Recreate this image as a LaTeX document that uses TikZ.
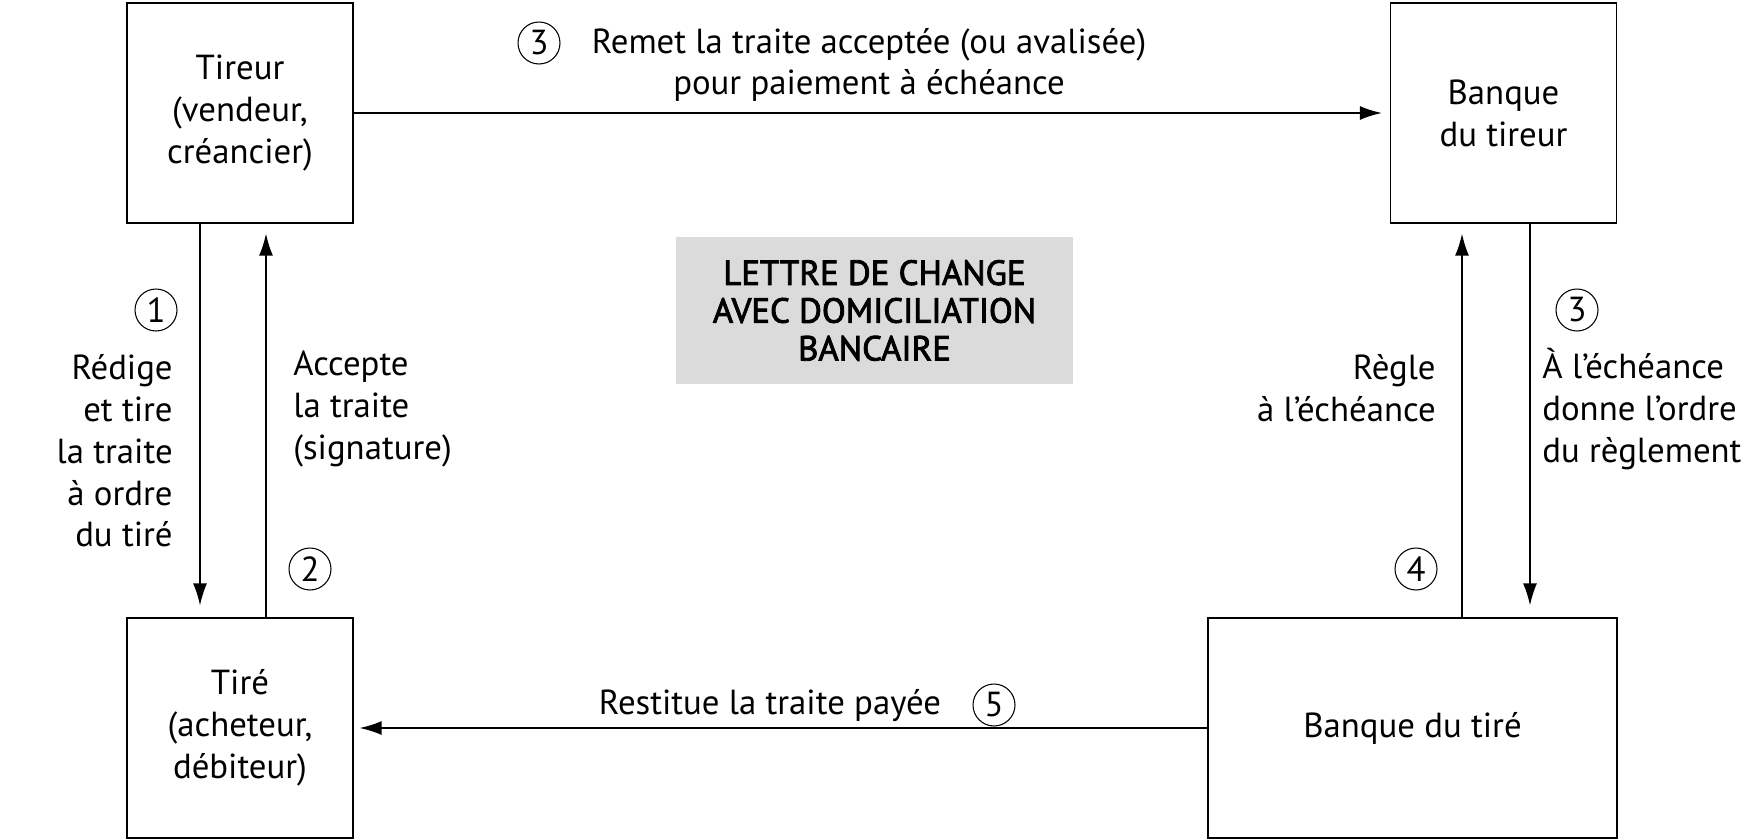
\documentclass[tikz,border=0pt]{standalone}
\usepackage{fontspec}
\setmainfont{PT Sans}
\newfontfamily\titrefont[FakeBold=2.5]{PT Sans}
\usetikzlibrary{arrows.meta}

\tikzset{
  acteur/.style={draw, line width=0.8pt, minimum width=4.52cm, minimum height=4.4cm, align=center},
  flow/.style={line width=0.8pt, -{Latex[length=0.44cm,width=0.28cm]}},
  numero/.style={draw, circle, line width=0.6pt, minimum size=0.84cm, inner sep=0pt},
  legende/.style={inner sep=0pt}
}

\begin{document}
\begin{tikzpicture}[x=0.02cm, y=-0.02cm, font=\fontsize{19.8}{23.8}\selectfont]
  \useasboundingbox (0,0) rectangle (1762,839);
  % Boxes
  \node[acteur] (tireur) at (240,113) {Tireur\\(vendeur,\\créancier)};
  \node[acteur] (btireur) at (1503.5,113) {Banque\\du tireur};
  \node[acteur] (tire) at (240,728) {Tiré\\(acheteur,\\débiteur)};
  \node[acteur, minimum width=8.18cm] (btire) at (1412.5,728) {Banque du tiré};
  % Title
  \node[fill=black!14, minimum width=7.94cm, minimum height=2.94cm, align=center,
        font=\titrefont\fontsize{19.8}{21.5}\selectfont] (titre) at (874.5,310.5)
        {LETTRE DE CHANGE\\AVEC DOMICILIATION\\BANCAIRE};
  % Arrows
  \draw[flow, shorten >=0.16cm] (tireur.east) -- (btireur.west);
  \draw[flow, shorten >=0.24cm] ([xshift=-0.8cm]tireur.south) -- ([xshift=-0.8cm]tire.north);
  \draw[flow, shorten >=0.2cm] ([xshift=0.52cm]tire.north) -- ([xshift=0.52cm]tireur.south);
  \coordinate (r4) at ([xshift=-0.83cm]btireur.south);
  \coordinate (r3) at ([xshift=0.53cm]btireur.south);
  \draw[flow, shorten >=0.2cm] (r4 |- btire.north) -- (r4);
  \draw[flow, shorten >=0.24cm] (r3) -- (r3 |- btire.north);
  \draw[flow, shorten >=0.12cm] (btire.west) -- (tire.east);
  % Labels
  \node[legende, align=center] (l3a) at (869,65) {Remet la traite acceptée (ou avalisée)\\pour paiement à échéance};
  \node[legende, align=right, anchor=east] (l1) at (173,451) {Rédige\\et tire\\la traite\\à ordre\\du tiré};
  \node[legende, align=left, anchor=west] (l2) at (293,409) {Accepte\\la traite\\(signature)};
  \node[legende, align=right, anchor=east] (l4) at (1436,388) {Règle\\à l’échéance};
  \node[legende, align=left, anchor=west] (l3b) at (1542,409) {À l’échéance\\donne l’ordre\\du règlement};
  \node[legende] (l5) at (770,706) {Restitue la traite payée};
  % Numbers
  \node[numero] (n1) at (156,310) {1};
  \node[numero] (n2) at (310,569) {2};
  \node[numero] (n3a) at (539,43) {3};
  \node[numero] (n3b) at (1577,310) {3};
  \node[numero] (n4) at (1416,569) {4};
  \node[numero] (n5) at (994,705) {5};
\end{tikzpicture}
\end{document}
